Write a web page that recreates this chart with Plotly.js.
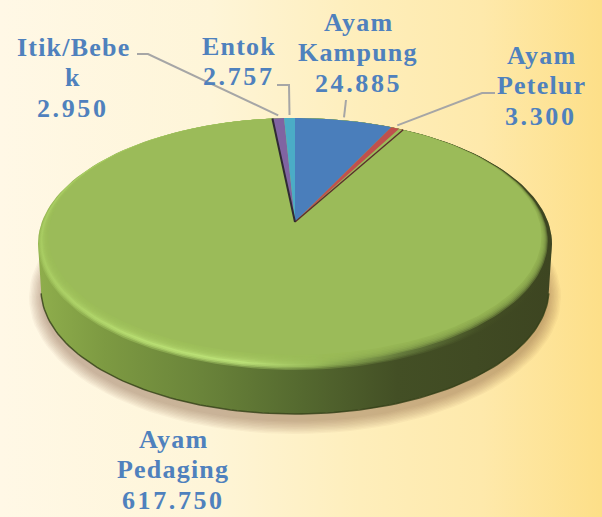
<!DOCTYPE html>
<html><head><meta charset="utf-8">
<script src="https://cdn.plot.ly/plotly-3.0.1.min.js"></script>
<style>
html,body{margin:0;padding:0;width:602px;height:517px;overflow:hidden;
background:linear-gradient(90deg,#fff8e6 0%,#fef5d8 35%,#feeebb 60%,#fee9ab 80%,#fddf88 100%);}
#c{width:602px;height:517px}
.annotation-text{letter-spacing:1.2px}
</style></head><body><div id="c"></div>
<script>
// ---- data ----
const categories=["Ayam Kampung","Ayam Petelur","Ayam Pedaging","Itik/Bebek","Entok"];
const values=[24885,3300,617750,2950,2757];
const colors=["#4a7ebb","#c0504d","#9bbb59","#8064a2","#4bacc6"];
const labelLines=[["Ayam","Kampung"],["Ayam","Petelur"],["Ayam","Pedaging"],["Itik/Bebe","k"],["Entok"]];
const labelX=[358,541,173,73,239];
const labelY=[22,55,439,47,46];
// ---- drawing geometry ----
const topE={cx:295,cy:244,rx:257,ry:126};
const baseE={cx:295,cy:289,rx:254,ry:125};
const apex={x:295,y:222};
const gain=1.6;          // the tilted view stretches the thin slices at the far edge
const total=values.reduce((a,b)=>a+b,0);
const big=values.indexOf(Math.max(...values));
const widths=values.map(v=>v/total*360*gain);
widths[big]=360-widths.reduce((a,w,i)=>i===big?a:a+w,0);
const rad=d=>d*Math.PI/180;
const pt=(e,d)=>[e.cx+e.rx*Math.sin(rad(d)),e.cy-e.ry*Math.cos(rad(d))];
function arc(e,a,b,n){const o=[];for(let i=0;i<=n;i++)o.push(pt(e,a+(b-a)*i/n));return o;}
const inset=t=>({cx:topE.cx,cy:topE.cy-t/2,rx:topE.rx-t*0.7,ry:topE.ry-t/2});
const traces=[];
function poly(points,opts){
  traces.push(Object.assign({type:'scatter',mode:'lines',x:points.map(p=>p[0]),y:points.map(p=>p[1]),
    fill:'toself',line:{width:0},hoverinfo:'skip',showlegend:false},opts));
}
// shadow
for(let i=0;i<10;i++){
  poly(arc({cx:295,cy:297,rx:baseE.rx+12-i*1.4,ry:baseE.ry+12-i*1.4},0,360,120),{fillcolor:'rgba(105,80,40,0.045)'});
}
const wallScale=[[0,'#8fae4c'],[0.13,'#7d9a42'],[0.32,'#6a843a'],[0.5,'#566b30'],[0.7,'#434f25'],[1,'#3d4521']];
const lightScale=[[0,'#a8cc62'],[0.2,'#b8de72'],[0.4,'#bce278'],[0.55,'#98ba58'],[0.72,'#62773a'],[0.87,'#434e24'],[1,'#3d4521']];
const grad=c=>({type:'horizontal',start:37,stop:552,colorscale:c});
// side wall
const wall=arc(topE,-90,90,90).concat(arc(baseE,90,270,120));
poly(wall,{fillcolor:'#566b30',fillgradient:grad(wallScale)});
const edge=arc(baseE,92,268,120);
traces.push({type:'scatter',mode:'lines',x:edge.map(p=>p[0]),y:edge.map(p=>p[1]),
  line:{width:1.5,color:'rgba(50,62,22,0.8)'},hoverinfo:'skip',showlegend:false});
// bevelled rim: wall colour rises to a highlight, then fades into the face
[[0,0.35],[1.5,0.5],[3,0.7],[4.5,0.9]].forEach(([t,o])=>
  poly(arc(inset(t),0,360,180),{fillcolor:'#9bbb59',fillgradient:grad(lightScale),opacity:o}));
[6,7.5,9,10.5,12,13.5].forEach(t=>poly(arc(inset(t),0,360,180),{fillcolor:'rgba(155,187,89,0.34)'}));
// slices
let cur=0;const mids=[];
values.forEach((v,i)=>{
  const a=cur,b=cur+widths[i];cur=b;mids.push((a+b)/2);
  const e=i===big?inset(15):topE;
  poly([[apex.x,apex.y]].concat(arc(e,a,b,Math.max(8,Math.ceil(widths[i]))),[[apex.x,apex.y]]),
    {fillcolor:colors[i],name:categories[i]});
});
// dark cut edges of the big slice
let s=0;for(let i=0;i<big;i++)s+=widths[i];
[[s,'#5a2f2c',1.4],[s+widths[big],'#2f2a33',2]].forEach(([d,col,w])=>{
  const p=pt(topE,d);
  traces.push({type:'scatter',mode:'lines',x:[apex.x,p[0]],y:[apex.y,p[1]],line:{width:w,color:col},hoverinfo:'skip',showlegend:false});
});
// leaders
const elbows=[[[346,100]],[[482,93],[495,93]],null,[[148,54],[137,54]],[[289,85],[277,85]]];
const shapes=[];
elbows.forEach((el,i)=>{
  if(!el)return;
  const p=pt({cx:topE.cx,cy:topE.cy-3,rx:topE.rx,ry:topE.ry},mids[i]);
  const pts=[p].concat(el);
  shapes.push({type:'path',xref:'x',yref:'y',layer:'above',
    path:'M'+pts.map(q=>q[0].toFixed(1)+','+q[1].toFixed(1)).join('L'),
    line:{color:'#a6a6a6',width:2}});
});
// labels
const fmt=v=>String(v).replace(/\B(?=(\d{3})+$)/g,'.');
const annotations=[];
values.forEach((v,i)=>{
  const lines=labelLines[i].map(t=>t).concat(['<span style="letter-spacing:2.6px">'+fmt(v)+'</span>']);
  lines.forEach((t,j)=>{
    annotations.push({xref:'x',yref:'y',x:labelX[i],y:labelY[i]+j*30.5,text:t,showarrow:false,
      xanchor:'center',yanchor:'middle',
      font:{family:'"Liberation Serif",serif',size:26,color:'#4f81bd',weight:700}});
  });
});
Plotly.newPlot('c',traces,{
  width:602,height:517,margin:{l:0,r:0,t:0,b:0},
  paper_bgcolor:'rgba(0,0,0,0)',plot_bgcolor:'rgba(0,0,0,0)',showlegend:false,
  xaxis:{range:[0,602],visible:false,fixedrange:true},
  yaxis:{range:[517,0],visible:false,fixedrange:true},
  shapes,annotations
},{displayModeBar:false,staticPlot:true});
</script></body></html>
